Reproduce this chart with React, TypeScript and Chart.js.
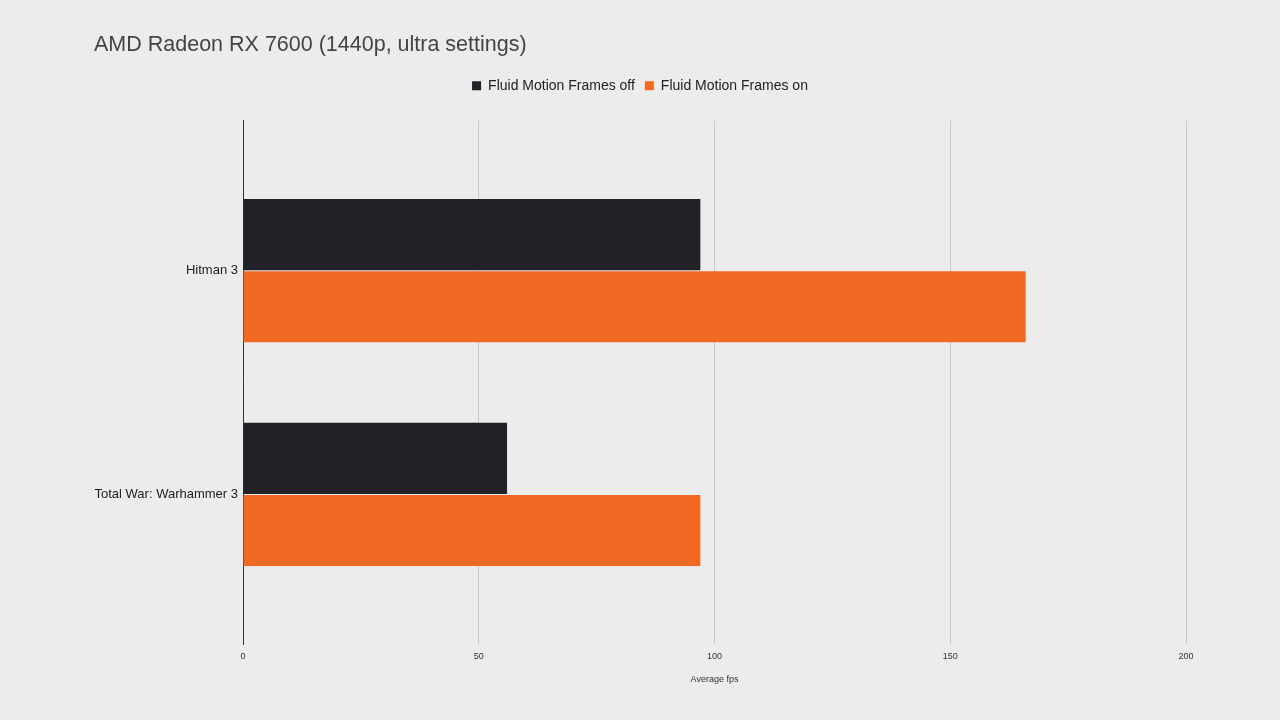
import { useRef, useEffect } from 'react';
import { Chart, registerables } from 'chart.js';

Chart.register(...registerables);

const games = ['Hitman 3', 'Total War: Warhammer 3'];
const fmfOff = [97, 56];
const fmfOn = [166, 97];
const xTicks = [0, 50, 100, 150, 200];

const FONT = '"Liberation Sans", Arial, sans-serif';

// push the plot area down a bit below the legend
const legendSpacer = {
  id: 'legendSpacer',
  beforeInit(chart: any) {
    const legend = chart.legend;
    if (!legend) return;
    const origFit = legend.fit;
    legend.fit = function () {
      origFit.call(this);
      this.height += 18;
    };
  },
};

export default function App() {
  const canvasRef = useRef<HTMLCanvasElement>(null);

  useEffect(() => {
    document.body.style.margin = '0';
    document.body.style.background = '#ececec';
    if (!canvasRef.current) return;
    const ctx = canvasRef.current.getContext('2d');
    if (!ctx) return;

    const chart = new Chart(ctx, {
      type: 'bar',
      data: {
        datasets: [
          {
            label: 'Fluid Motion Frames off',
            data: fmfOff.map((v, i) => ({ x: v, y: i })),
            backgroundColor: '#222128',
            borderWidth: 0,
          },
          {
            label: 'Fluid Motion Frames on',
            data: fmfOn.map((v, i) => ({ x: v, y: i })),
            backgroundColor: '#f26924',
            borderWidth: 0,
          },
        ],
      },
      options: {
        indexAxis: 'y',
        animation: false,
        responsive: false,
        maintainAspectRatio: false,
        categoryPercentage: 0.645,
        barPercentage: 0.985,
        layout: { padding: { top: 20, left: 94, right: 94, bottom: 35 } },
        scales: {
          x: {
            type: 'linear',
            min: 0,
            max: 200,
            afterBuildTicks: (scale: any) => {
              scale.ticks = xTicks.map(v => ({ value: v }));
            },
            grid: { color: '#c9c9c9', drawTicks: false, lineWidth: 1 },
            border: { display: false },
            ticks: {
              color: '#333',
              font: { family: FONT, size: 9 },
              padding: 7,
              maxRotation: 0,
            },
            title: {
              display: true,
              text: 'Average fps',
              color: '#333',
              font: { family: FONT, size: 9 },
              padding: { top: 5, bottom: 0 },
            },
          },
          y: {
            type: 'linear',
            offset: false,
            reverse: true,
            min: -0.67,
            max: 1.67,
            afterBuildTicks: (scale: any) => {
              scale.ticks = games.map((_, i) => ({ value: i }));
            },
            afterFit: (scale: any) => {
              scale.width = 149;
            },
            grid: { display: false, drawTicks: false },
            border: { display: true, color: '#333', width: 1 },
            ticks: {
              color: '#222',
              font: { family: FONT, size: 13 },
              padding: 5,
              callback: (v: any) => games[v as number] ?? '',
            },
          },
        },
        plugins: {
          title: {
            display: true,
            text: 'AMD Radeon RX 7600 (1440p, ultra settings)',
            align: 'start',
            color: '#444',
            font: { family: FONT, size: 21.5, weight: 'normal' },
            padding: { top: 12, bottom: 11 },
          },
          legend: {
            display: true,
            position: 'top',
            labels: {
              color: '#222',
              font: { family: FONT, size: 14 },
              boxWidth: 9,
              boxHeight: 9,
              padding: 10,
            },
          },
          tooltip: { enabled: false },
        },
      },
      plugins: [legendSpacer],
    });

    return () => {
      chart.destroy();
    };
  }, []);

  return (
    <div style={{ width: 1280, height: 720, background: '#ececec' }}>
      <canvas ref={canvasRef} width={1280} height={720} style={{ display: 'block' }} />
    </div>
  );
}
